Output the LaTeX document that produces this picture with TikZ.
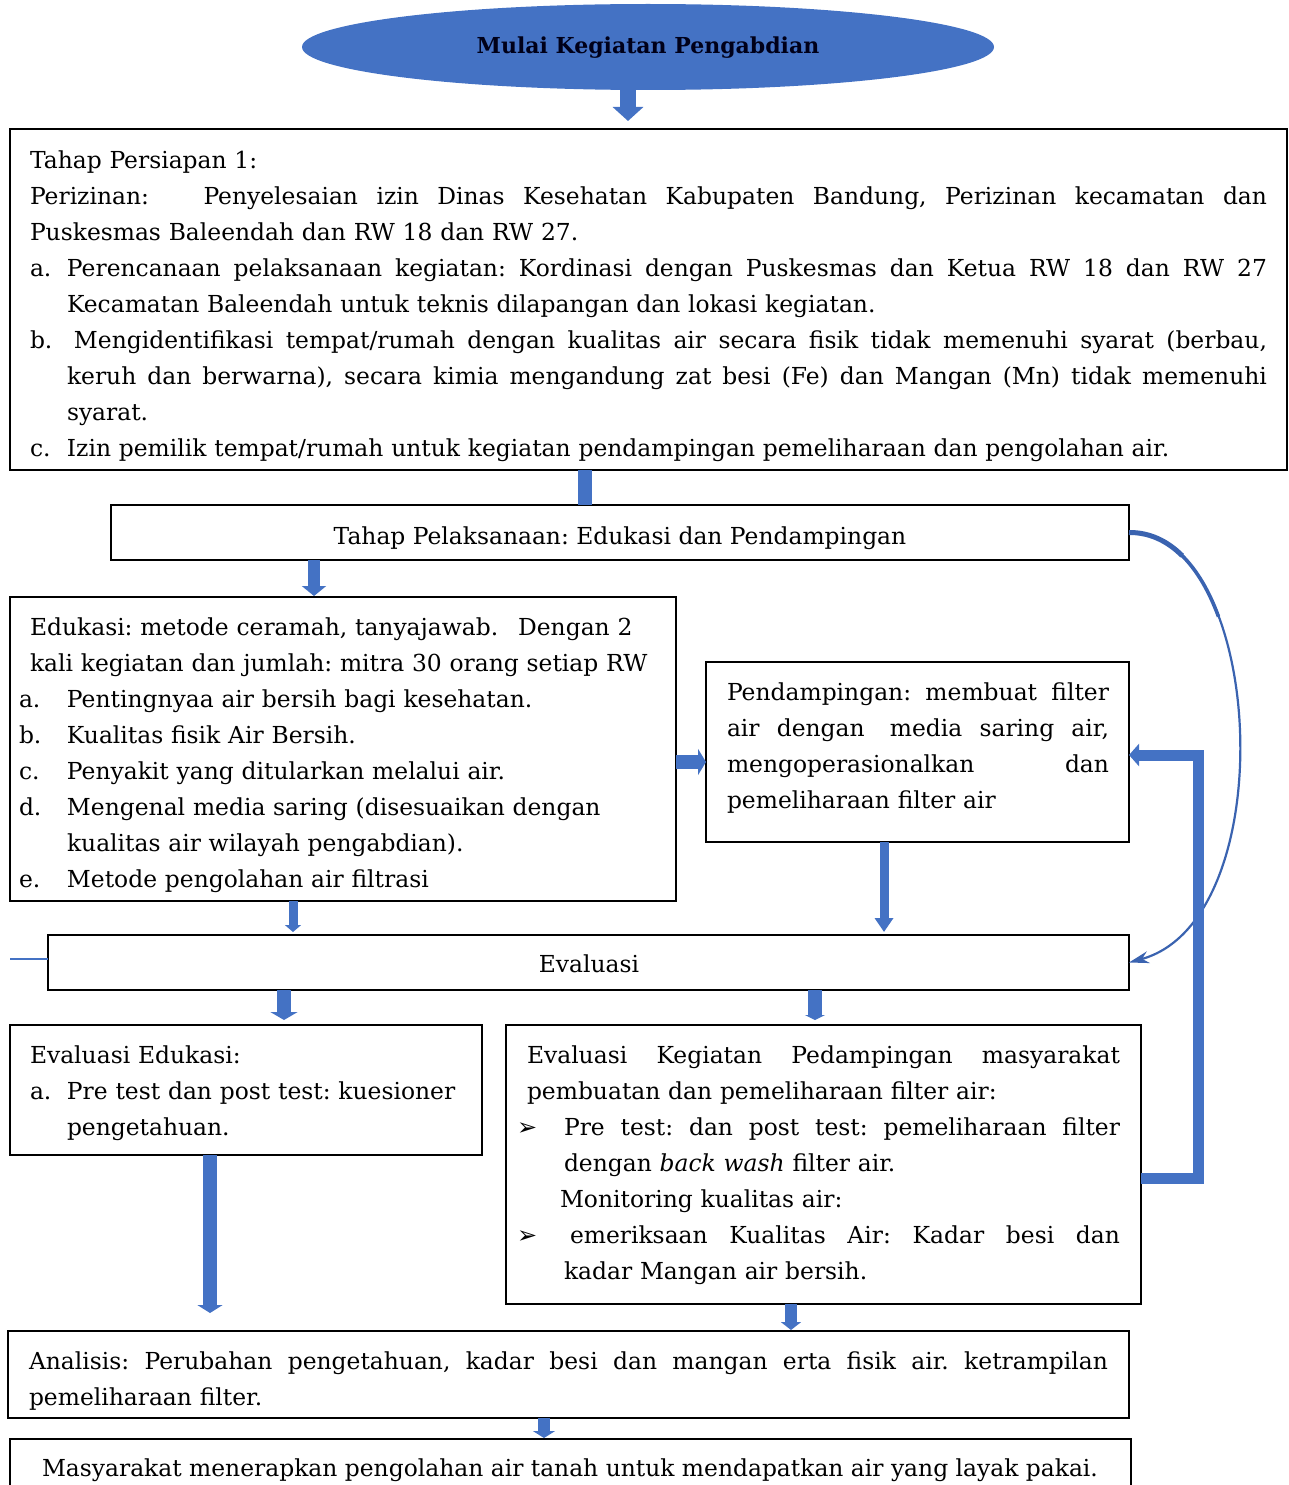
\documentclass[tikz,border=0pt]{standalone}
\usepackage{fontspec}
\setmainfont{DejaVu Serif}
\newfontfamily\symfont{DejaVu Sans}
\usetikzlibrary{arrows.meta,shapes.geometric}
\definecolor{myblue}{HTML}{4472C4}
\definecolor{curveblue}{HTML}{3A63B0}
\frenchspacing
\newcommand{\JL}[2]{\leavevmode\hbox to #1pt{\spaceskip=0.3em plus 1fil minus 0.05em\xspaceskip=\spaceskip #2}}
\newcommand{\LB}[2]{\makebox[#1pt][l]{#2}}
\newcommand{\arrowbullet}{{\symfont\fontsize{24}{24}\selectfont ➢}}
\begin{document}
\begin{tikzpicture}[x=1pt,y=-1pt,
  box/.style={draw=black, line width=1.1pt, inner sep=0pt, outer sep=0pt, anchor=north west, fill=white},
  txt/.style={inner sep=0pt, outer sep=0pt, anchor=base west, align=left, font=\fontsize{23.4}{36}\selectfont, text width=#1pt},
  ctxt/.style={inner sep=0pt, outer sep=0pt, anchor=base, font=\fontsize{23.4}{36}\selectfont},
  barr/.style n args={3}{draw=myblue, line width=#1pt, -{Triangle[width=#2pt,length=#3pt]}},
  shaft/.style={draw=myblue, line width=#1pt}]
\path[use as bounding box] (0,0) rectangle (1288,1485);
\clip (0,0) rectangle (1288,1485);

% helper coordinates for connector positions
\coordinate (kA1) at (628,0);
\coordinate (kA2) at (585,0);
\coordinate (kA3) at (314,0);
\coordinate (kA4) at (0,762);
\coordinate (kA5) at (884,0);
\coordinate (kA6) at (293,0);
\coordinate (kA7) at (284,0);
\coordinate (kA8) at (815,0);
\coordinate (kA9) at (210,0);
\coordinate (kA10) at (791,0);
\coordinate (kA11) at (544,0);
\coordinate (kB1) at (0,1178);
\coordinate (kB2) at (0,755);
\coordinate (kC1) at (1198,1178);
\coordinate (kC2) at (1198,755);
\coordinate (kE) at (10,959);

% start ellipse
\node[ellipse, fill=myblue, minimum width=692pt, minimum height=86pt, inner sep=0pt] (ell) at (648,47) {};
\node[ctxt, font=\bfseries\fontsize{22}{26}\selectfont, text=black!90!blue] (title) at (648,54) {Mulai Kegiatan Pengabdian};

% boxes
\node[box, minimum width=1277pt, minimum height=341pt] (b1) at (10,129) {};
\node[box, minimum width=1018pt, minimum height=55pt] (b2) at (111,505) {};
\node[box, minimum width=666pt, minimum height=304pt] (b3) at (10,597) {};
\node[box, minimum width=423pt, minimum height=180pt] (b4) at (706,662) {};
\node[box, minimum width=1081pt, minimum height=55pt] (b5) at (48,935) {};
\node[box, minimum width=472pt, minimum height=130pt] (b6) at (10,1025) {};
\node[box, minimum width=635pt, minimum height=279pt] (b7) at (506,1025) {};
\node[box, minimum width=1121pt, minimum height=87pt] (b8) at (8,1331) {};
\node[box, minimum width=1121pt, minimum height=80pt] (b9) at (10,1439) {};

% texts
\node[txt=1240] (t1) at (30,168) {Tahap Persiapan 1:\\
\JL{1237}{Perizinan:\hspace{36pt} Penyelesaian izin Dinas Kesehatan Kabupaten Bandung, Perizinan kecamatan dan}\\
Puskesmas Baleendah dan RW 18 dan RW 27.\\
\LB{37}{a.}\JL{1200}{Perencanaan pelaksanaan kegiatan: Kordinasi dengan Puskesmas dan Ketua RW 18 dan RW 27}\\
\hspace*{37pt}Kecamatan Baleendah untuk teknis dilapangan dan lokasi kegiatan.\\
\LB{37}{b.}\JL{1200}{\hspace*{7pt}Mengidentifikasi tempat/rumah dengan kualitas air secara fisik tidak memenuhi syarat (berbau,}\\
\hspace*{37pt}\JL{1200}{keruh dan berwarna), secara kimia mengandung zat besi (Fe) dan Mangan (Mn) tidak memenuhi}\\
\hspace*{37pt}syarat.\\
\LB{37}{c.}Izin pemilik tempat/rumah untuk kegiatan pendampingan pemeliharaan dan pengolahan air.};

\node[ctxt] (t2) at (620,544) {Tahap Pelaksanaan: Edukasi dan Pendampingan};

\node[txt=660] (t3) at (19,635) {\hspace*{11pt}Edukasi: metode ceramah, tanyajawab.\hspace{12pt} Dengan 2\\
\hspace*{11pt}kali kegiatan dan jumlah: mitra 30 orang setiap RW\\
\LB{48}{a.}Pentingnyaa air bersih bagi kesehatan.\\
\LB{48}{b.}Kualitas fisik Air Bersih.\\
\LB{48}{c.}Penyakit yang ditularkan melalui air.\\
\LB{48}{d.}Mengenal media saring (disesuaikan dengan\\
\hspace*{48pt}kualitas air wilayah pengabdian).\\
\LB{48}{e.}Metode pengolahan air filtrasi};

\node[txt=385] (t4) at (727,700) {\JL{382}{Pendampingan: membuat filter}\\
\JL{382}{air dengan\hspace{8pt} media saring air,}\\
\JL{382}{mengoperasionalkan dan}\\
pemeliharaan filter air};

\node[ctxt] (t5) at (589,972) {Evaluasi};

\node[txt=450] (t6) at (30,1063) {Evaluasi Edukasi:\\
\LB{37}{a.}Pre test dan post test: kuesioner\\
\hspace*{37pt}pengetahuan.};

\node[txt=620] (t7) at (517,1063) {\hspace*{10pt}\JL{593}{Evaluasi Kegiatan Pedampingan masyarakat}\\
\hspace*{10pt}pembuatan dan pemeliharaan filter air:\\
\LB{47}{\arrowbullet}\JL{556}{Pre test: dan post test: pemeliharaan filter}\\
\hspace*{47pt}dengan \textit{back wash} filter air.\\
\hspace*{43pt}Monitoring kualitas air:\\
\LB{47}{\arrowbullet}\JL{556}{\hspace*{6pt}emeriksaan Kualitas Air: Kadar besi dan}\\
\hspace*{47pt}kadar Mangan air bersih.};

\node[txt=1085] (t8) at (29,1369) {\JL{1079}{Analisis: Perubahan pengetahuan, kadar besi dan mangan erta fisik air. ketrampilan}\\
pemeliharaan filter.};

\node[ctxt] (t9) at (570,1476) {Masyarakat menerapkan pengolahan air tanah untuk mendapatkan air yang layak pakai.};

% connectors
\draw[barr={16}{30}{14}, shorten >=8pt] (ell.south -| kA1) -- (b1.north -| kA1);
\draw[shaft=14] (b1.south -| kA2) -- (b2.north -| kA2);
\draw[barr={12}{24}{10}, shorten >=1pt] (b2.south -| kA3) -- (b3.north -| kA3);
\draw[barr={14}{26}{8}] (b3.east |- kA4) -- (b4.west |- kA4);
\draw[barr={9}{18}{14}, shorten >=3pt] (b4.south -| kA5) -- (b5.north -| kA5);
\draw[barr={9}{16}{7}, shorten >=3pt] (b3.south -| kA6) -- (b5.north -| kA6);
\draw[barr={14}{27}{8}, shorten >=5pt] (b5.south -| kA7) -- (b6.north -| kA7);
\draw[barr={14}{20}{5}, shorten >=5pt] (b5.south -| kA8) -- (b7.north -| kA8);
\draw[barr={14}{25}{8}, shorten >=18pt] (b6.south -| kA9) -- (b8.north -| kA9);
\draw[barr={12}{20}{8}, shorten >=1pt] (b7.south -| kA10) -- (b8.north -| kA10);
\draw[barr={12}{22}{7}, shorten >=1pt] (b8.south -| kA11) -- (b9.north -| kA11);
\draw[myblue, line width=1.2pt] (kE) -- (b5.west |- kE);

% curved feedback arrow (thicker near its start)
\draw[curveblue, line width=2.2pt, -{Stealth[length=20pt,width=12pt]}] (b2.east) .. controls (1265,531) and (1285,920) .. (b5.east);
\draw[curveblue, line width=3.6pt] (b2.east) .. controls (1169.8,532) and (1200.2,566.7) .. (1218.5,616.7);
\draw[curveblue, line width=5pt] (b2.east) .. controls (1149.4,532.3) and (1167.2,540.8) .. (1182.1,555.6);

% bracket feedback arrow
\draw[myblue, line width=11pt, line join=miter, -{Triangle[width=22pt,length=10pt]}] (b7.east |- kB1) -- (kC1) -- (kC2) -- (b4.east |- kB2);
\end{tikzpicture}
\end{document}
